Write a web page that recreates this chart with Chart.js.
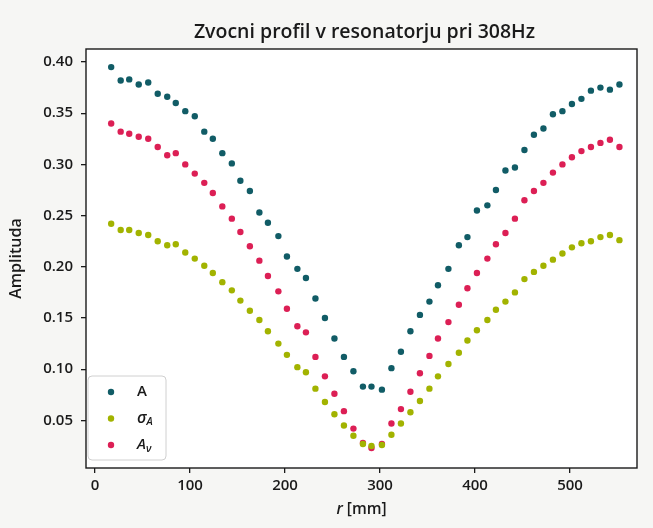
<!DOCTYPE html>
<html>
<head>
<meta charset="utf-8">
<script src="https://cdn.jsdelivr.net/npm/chart.js@4/dist/chart.umd.min.js"></script>
<style>
  html, body { margin: 0; padding: 0; background: #f6f6f4; }
  #wrap { width: 653px; height: 528px; }
</style>
</head>
<body>
<div id="wrap"><canvas id="myChart" width="653" height="528"></canvas></div>
<script>
// r positions [mm]
const radius = [17, 27, 36, 46, 56, 66, 76, 85, 95, 105, 115, 124, 134, 144, 153, 163, 173, 182, 193, 202,
  213, 222, 232, 242, 252, 262, 272, 282, 291, 302, 312, 322, 332, 342, 352, 361, 372, 383, 392, 402,
  413, 422, 432, 442, 452, 462, 472, 482, 492, 502, 512, 522, 532, 542, 552];

const ampA = [0.395, 0.382, 0.383, 0.378, 0.380, 0.369, 0.366, 0.360, 0.352, 0.347, 0.332, 0.325, 0.311, 0.301,
  0.284, 0.274, 0.253, 0.243, 0.230, 0.210, 0.198, 0.189, 0.169, 0.150, 0.130, 0.112, 0.098, 0.083, 0.083,
  0.080, 0.101, 0.117, 0.137, 0.153, 0.166, 0.182, 0.198, 0.221, 0.229, 0.255, 0.260, 0.275, 0.294, 0.297,
  0.314, 0.329, 0.335, 0.349, 0.352, 0.359, 0.364, 0.372, 0.375, 0.373, 0.378];

const sigmaA = [0.242, 0.236, 0.236, 0.233, 0.231, 0.225, 0.221, 0.222, 0.214, 0.208, 0.201, 0.194, 0.185, 0.177,
  0.167, 0.157, 0.148, 0.137, 0.125, 0.114, 0.102, 0.097, 0.081, 0.068, 0.056, 0.045, 0.035, 0.027, 0.025,
  0.026, 0.036, 0.047, 0.058, 0.069, 0.081, 0.093, 0.105, 0.116, 0.128, 0.138, 0.148, 0.158, 0.166, 0.175,
  0.188, 0.195, 0.201, 0.207, 0.213, 0.219, 0.223, 0.225, 0.229, 0.231, 0.226];

const ampV = [0.340, 0.332, 0.330, 0.327, 0.325, 0.317, 0.309, 0.311, 0.300, 0.291, 0.282, 0.272, 0.259, 0.247,
  0.234, 0.220, 0.206, 0.191, 0.176, 0.159, 0.142, 0.136, 0.112, 0.093, 0.076, 0.059, 0.042, 0.028, 0.023,
  0.027, 0.047, 0.061, 0.078, 0.096, 0.113, 0.130, 0.146, 0.163, 0.179, 0.194, 0.208, 0.222, 0.233, 0.247,
  0.265, 0.274, 0.282, 0.292, 0.300, 0.307, 0.313, 0.317, 0.321, 0.324, 0.317];

const xTicks = [0, 100, 200, 300, 400, 500];
const yTicks = [0.05, 0.10, 0.15, 0.20, 0.25, 0.30, 0.35, 0.40];

const colors = {
  a: '#115c66',
  sigma: '#a2b300',
  v: '#dc1f55',
  axis: '#1a1a1a'
};

const fontFamily = '"Open Sans", "DejaVu Sans", sans-serif';
const titleText = 'Zvocni profil v resonatorju pri 308Hz';

function toPoints(values) {
  return values.map((v, i) => ({ x: radius[i], y: v }));
}

function makeSet(label, values, color) {
  return {
    label: label,
    data: toPoints(values),
    backgroundColor: color,
    borderColor: color,
    pointRadius: 3.2,
    pointBorderWidth: 0
  };
}

// background + frame round the plot area (matplotlib spines)
const framePlugin = {
  id: 'frame',
  beforeDraw(chart) {
    const ctx = chart.ctx;
    const a = chart.chartArea;
    ctx.save();
    ctx.fillStyle = '#f6f6f4';
    ctx.fillRect(0, 0, chart.width, chart.height);
    ctx.fillStyle = '#ffffff';
    ctx.fillRect(a.left, a.top, a.right - a.left, a.bottom - a.top);
    ctx.restore();
  },
  afterDatasetsDraw(chart) {
    const ctx = chart.ctx;
    const a = chart.chartArea;
    ctx.save();
    ctx.strokeStyle = colors.axis;
    ctx.lineWidth = 1.4;
    ctx.strokeRect(a.left, a.top, a.right - a.left, a.bottom - a.top);
    ctx.restore();
  }
};

// title over the axes, x label with italic r, and a matplotlib-like legend with subscripts
const labelPlugin = {
  id: 'labels',
  afterDraw(chart) {
    const ctx = chart.ctx;
    const a = chart.chartArea;
    const cx = (a.left + a.right) / 2;
    ctx.save();
    ctx.fillStyle = colors.axis;

    // title
    ctx.font = '600 19.5px ' + fontFamily;
    ctx.textAlign = 'center';
    ctx.textBaseline = 'alphabetic';
    ctx.fillText(titleText, cx + 3, 38);

    // x axis label
    ctx.textAlign = 'left';
    const italic = 'italic 600 15.5px ' + fontFamily;
    const normal = '600 15.5px ' + fontFamily;
    ctx.font = italic;
    const wr = ctx.measureText('r').width;
    ctx.font = normal;
    const wm = ctx.measureText(' [mm]').width;
    const x0 = cx - (wr + wm) / 2;
    ctx.font = italic;
    ctx.fillText('r', x0, 514);
    ctx.font = normal;
    ctx.fillText(' [mm]', x0 + wr, 514);

    // legend
    const bx = a.left + 2, by = a.bottom - 92, bw = 78, bh = 84;
    ctx.beginPath();
    ctx.roundRect(bx, by, bw, bh, 4);
    ctx.fillStyle = 'rgba(255,255,255,0.85)';
    ctx.fill();
    ctx.strokeStyle = '#d0d0d0';
    ctx.lineWidth = 1;
    ctx.stroke();

    const rows = [
      { color: colors.a, main: 'A', sub: '', mainFont: '600 15px ' + fontFamily },
      { color: colors.sigma, main: 'σ', sub: 'A', mainFont: 'italic 600 16px ' + fontFamily },
      { color: colors.v, main: 'A', sub: 'ν', mainFont: 'italic 600 15px ' + fontFamily }
    ];
    rows.forEach((row, i) => {
      const ry = by + 16 + i * 26.5;
      ctx.beginPath();
      ctx.arc(bx + 23, ry, 3.2, 0, Math.PI * 2);
      ctx.fillStyle = row.color;
      ctx.fill();
      ctx.fillStyle = colors.axis;
      ctx.font = row.mainFont;
      ctx.textBaseline = 'middle';
      ctx.fillText(row.main, bx + 49, ry);
      if (row.sub) {
        const w = ctx.measureText(row.main).width;
        ctx.font = 'italic 600 10.5px ' + fontFamily;
        ctx.fillText(row.sub, bx + 49 + w, ry + 4);
      }
    });
    ctx.restore();
  }
};

const ctx = document.querySelector('#myChart').getContext('2d');

// eslint-disable-next-line no-undef
const myChart = new Chart(ctx, {
  type: 'scatter',
  data: {
    datasets: [
      makeSet('A', ampA, colors.a),
      makeSet('σA', sigmaA, colors.sigma),
      makeSet('Aν', ampV, colors.v)
    ]
  },
  options: {
    responsive: false,
    animation: false,
    layout: { padding: { left: 0, right: 16, top: 49, bottom: 0 } },
    plugins: {
      legend: { display: false },
      tooltip: { enabled: false },
      title: { display: false }
    },
    scales: {
      x: {
        type: 'linear',
        min: -9.5,
        max: 570.5,
        afterBuildTicks: (scale) => { scale.ticks = xTicks.map(v => ({ value: v })); },
        afterFit: (scale) => { scale.height = 60; },
        grid: { drawOnChartArea: false, drawTicks: true, tickLength: 5, color: colors.axis, lineWidth: 1.3 },
        border: { display: false },
        ticks: {
          color: colors.axis,
          padding: 4,
          maxRotation: 0,
          font: { family: fontFamily, size: 15, weight: '600' },
          callback: (v) => String(v)
        }
      },
      y: {
        type: 'linear',
        min: 0.0035,
        max: 0.4127,
        afterBuildTicks: (scale) => { scale.ticks = yTicks.map(v => ({ value: v })); },
        afterFit: (scale) => { scale.width = 86; },
        grid: { drawOnChartArea: false, drawTicks: true, tickLength: 5, color: colors.axis, lineWidth: 1.3 },
        border: { display: false },
        title: {
          display: true,
          text: 'Amplituda',
          color: colors.axis,
          font: { family: fontFamily, size: 16, weight: '600' },
          padding: { top: 7, bottom: 0 }
        },
        ticks: {
          color: colors.axis,
          padding: 8,
          font: { family: fontFamily, size: 15, weight: '600' },
          callback: (v) => v.toFixed(2)
        }
      }
    }
  },
  plugins: [framePlugin, labelPlugin]
});
</script>
</body>
</html>
